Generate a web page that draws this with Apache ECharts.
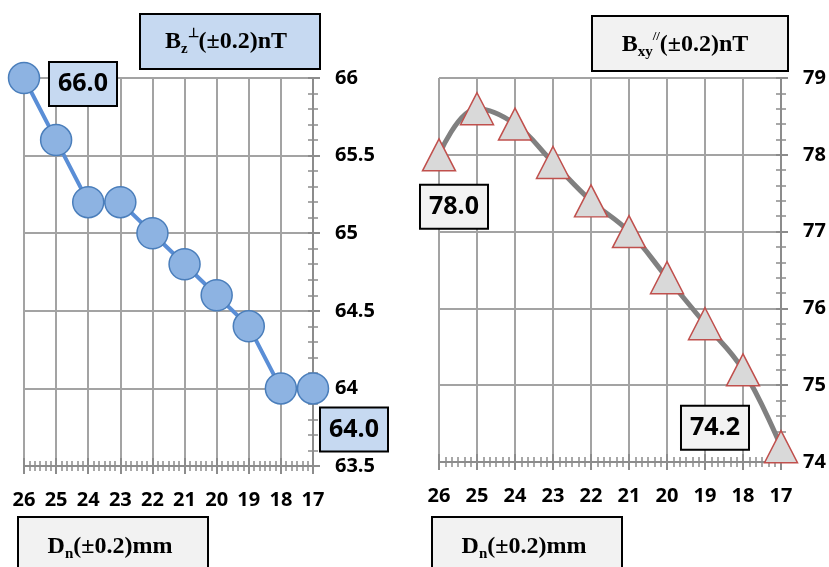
<!DOCTYPE html>
<html>
<head>
<meta charset="utf-8">
<script src="https://cdn.jsdelivr.net/npm/echarts@6/dist/echarts.min.js"></script>
<style>
html,body{margin:0;padding:0;background:#fff;}
#chart{width:829px;height:567px;}
</style>
</head>
<body>
<div id="chart"></div>
<script>
// ---- data ----
const categories = [26, 25, 24, 23, 22, 21, 20, 19, 18, 17];
const bzValues  = [66.0, 65.6, 65.2, 65.2, 65.0, 64.8, 64.6, 64.4, 64.0, 64.0];
const bxyValues = [78.0, 78.6, 78.4, 77.9, 77.4, 77.0, 76.4, 75.8, 75.2, 74.2];
const bzTicks  = [63.5, 64, 64.5, 65, 65.5, 66];
const bxyTicks = [74, 75, 76, 77, 78, 79];
const bzTitle  = ['B', 'z', '⊥', '(±0.2)nT'];
const bxyTitle = ['B', 'xy', '//', '(±0.2)nT'];
const xTitle   = ['D', 'n', '', '(±0.2)mm'];

const NUMFONT = '"Open Sans", "DejaVu Sans", sans-serif';
const SERIF = '"Liberation Serif", "Times New Roman", serif';
const GRID_C = '#a3a3a3';
const AXIS_C = '#8c8c8c';

function xAxes(gi) {
  const base = {
    type: 'value', gridIndex: gi, inverse: true,
    min: Math.min(...categories), max: Math.max(...categories), interval: 1,
    position: 'bottom'
  };
  return [
    Object.assign({}, base, {
      axisLine: {show: true, lineStyle: {color: AXIS_C, width: 2}},
      axisTick: {show: true, length: 8, lineStyle: {color: AXIS_C, width: 2}},
      minorTick: {show: true, splitNumber: 6, length: 5, lineStyle: {color: AXIS_C, width: 1.5}},
      splitLine: {show: true, lineStyle: {color: GRID_C, width: 2}},
      axisLabel: {show: true, margin: 24, fontSize: 20, fontWeight: 'bold', color: '#000', fontFamily: NUMFONT}
    }),
    Object.assign({}, base, {
      axisLine: {show: false},
      axisTick: {show: true, inside: true, length: 8, lineStyle: {color: AXIS_C, width: 2}},
      minorTick: {show: true, splitNumber: 6, length: 5, lineStyle: {color: AXIS_C, width: 1.5}},
      splitLine: {show: false},
      axisLabel: {show: false}
    })
  ];
}

function yAxes(gi, ticks) {
  const base = {
    type: 'value', gridIndex: gi, position: 'right',
    min: ticks[0], max: ticks[ticks.length - 1], interval: ticks[1] - ticks[0]
  };
  return [
    Object.assign({}, base, {
      axisLine: {show: true, lineStyle: {color: AXIS_C, width: 2}},
      axisTick: {show: true, length: 7, lineStyle: {color: AXIS_C, width: 2}},
      minorTick: {show: true, splitNumber: 5, length: 5, lineStyle: {color: AXIS_C, width: 1.5}},
      splitLine: {show: true, lineStyle: {color: GRID_C, width: 2}},
      axisLabel: {show: true, margin: 22, fontSize: 20, fontWeight: 'bold', color: '#000', fontFamily: NUMFONT,
        formatter: v => String(v)}
    }),
    Object.assign({}, base, {
      axisLine: {show: false},
      axisTick: {show: true, inside: true, length: 5, lineStyle: {color: AXIS_C, width: 2}},
      minorTick: {show: true, splitNumber: 5, length: 5, lineStyle: {color: AXIS_C, width: 1.5}},
      splitLine: {show: false},
      axisLabel: {show: false}
    })
  ];
}

function annotated(values, firstOffset, lastOffset, bg) {
  return categories.map((c, i) => {
    const item = {value: [c, values[i]]};
    if (i === 0 || i === categories.length - 1) {
      item.label = {
        show: true, position: 'inside',
        offset: i === 0 ? firstOffset : lastOffset,
        formatter: p => p.value[1].toFixed(1),
        fontSize: 25, fontWeight: 'bold', color: '#000', fontFamily: NUMFONT,
        lineHeight: 30, backgroundColor: bg, borderColor: '#000', borderWidth: 2,
        padding: [6, 8, 6, 8]
      };
    }
    return item;
  });
}

function titleBox(x, y, w, h, fill, parts, cx, cy) {
  return {
    type: 'group',
    children: [
      {type: 'rect', shape: {x: x, y: y, width: w, height: h},
       style: {fill: fill, stroke: '#000', lineWidth: 2}},
      {type: 'text', x: cx, y: cy,
       style: {
         text: '{m|' + parts[0] + '}{s|' + parts[1] + '}' + (parts[2] ? '{p|' + parts[2] + '}' : '') + '{m|' + parts[3] + '}',
         align: 'center', verticalAlign: 'middle',
         rich: {
           m: {fontFamily: SERIF, fontWeight: 'bold', fontSize: 24, lineHeight: 30, color: '#000'},
           s: {fontFamily: SERIF, fontWeight: 'bold', fontSize: 15, lineHeight: 17, verticalAlign: 'bottom', color: '#000'},
           p: {fontFamily: SERIF, fontWeight: 'bold', fontSize: 13, lineHeight: 22, verticalAlign: 'top', color: '#000'}
         }
       }}
    ]
  };
}

const chart = echarts.init(document.getElementById('chart'), null, {renderer: 'canvas'});
chart.setOption({
  animation: false,
  backgroundColor: '#fff',
  grid: [
    {left: 24, top: 78, width: 289, height: 388},
    {left: 439, top: 78, width: 342, height: 384}
  ],
  xAxis: [...xAxes(0), ...xAxes(1)],
  yAxis: [...yAxes(0, bzTicks), ...yAxes(1, bxyTicks)],
  series: [
    {
      type: 'line', xAxisIndex: 0, yAxisIndex: 0, clip: false,
      data: annotated(bzValues, [59, 6], [41, 41], '#C6D9F1'),
      lineStyle: {color: '#5a8ed6', width: 4},
      symbol: 'circle', symbolSize: 31,
      itemStyle: {color: '#8db3e2', borderColor: '#4a7ebb', borderWidth: 1.5}
    },
    {
      type: 'line', xAxisIndex: 2, yAxisIndex: 2, clip: false, smooth: 0.4,
      data: annotated(bxyValues, [15, 52], [-66, -19], '#F2F2F2'),
      lineStyle: {color: '#808080', width: 5},
      symbol: 'triangle', symbolSize: [33, 32],
      itemStyle: {color: '#d9d9d9', borderColor: '#c0504d', borderWidth: 1.5}
    }
  ],
  graphic: [
    titleBox(140, 14, 180, 55, '#C6D9F1', bzTitle, 226, 42),
    titleBox(592, 16, 196, 55, '#F2F2F2', bxyTitle, 685, 45),
    titleBox(18, 517, 190, 60, '#F2F2F2', xTitle, 110, 547),
    titleBox(432, 517, 190, 60, '#F2F2F2', xTitle, 524, 547)
  ]
});
</script>
</body>
</html>
